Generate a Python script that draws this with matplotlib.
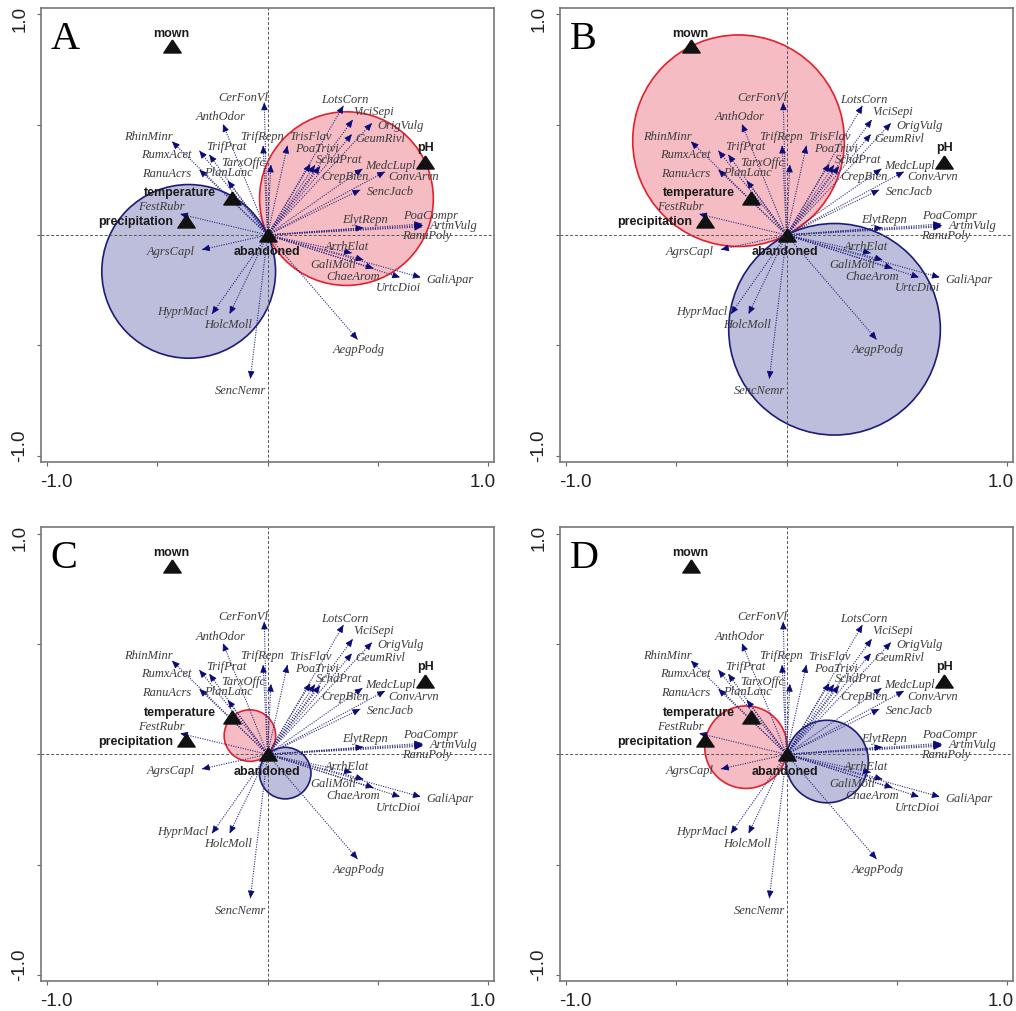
import numpy as np
import matplotlib
matplotlib.use("Agg")
import matplotlib.pyplot as plt
from matplotlib.patches import Circle
from matplotlib.transforms import ScaledTranslation

# ---------------- data ----------------
species = ["CerFonVl", "AnthOdor", "RhinMinr", "RumxAcet", "TrifPrat", "RanuAcrs",
           "PlanLanc", "TrifRepn", "TarxOffc", "TrisFlav", "PoaTrivi", "SchdPrat",
           "CrepBien", "LotsCorn", "ViciSepi", "OrigVulg", "GeumRivl", "MedcLupl",
           "ConvArvn", "SencJacb", "ElytRepn", "PoaCompr", "ArtmVulg", "RanuPoly",
           "ArrhElat", "GaliMoll", "ChaeArom", "UrtcDioi", "GaliApar", "AegpPodg",
           "SencNemr", "HolcMoll", "HyprMacl", "AgrsCapl", "FestRubr"]
sp_x = [-0.015, -0.202, -0.433, -0.309, -0.264, -0.309,
        -0.180, -0.020, 0.015, 0.090, 0.194, 0.215,
        0.238, 0.344, 0.386, 0.473, 0.382, 0.430,
        0.532, 0.420, 0.434, 0.700, 0.705, 0.700,
        0.382, 0.435, 0.480, 0.600, 0.694, 0.408,
        -0.078, -0.172, -0.252, -0.297, -0.396]
sp_y = [0.601, 0.503, 0.424, 0.382, 0.364, 0.296,
        0.246, 0.405, 0.319, 0.405, 0.322, 0.317,
        0.311, 0.586, 0.522, 0.507, 0.457, 0.300,
        0.287, 0.205, 0.033, 0.050, 0.043, 0.037,
        -0.082, -0.113, -0.151, -0.192, -0.192, -0.474,
        -0.652, -0.358, -0.358, -0.066, 0.095]

env_names = ["mown", "pH", "temperature", "precipitation", "abandoned"]
env_x = [-0.435, 0.715, -0.160, -0.368, 0.0]
env_y = [0.855, 0.330, 0.170, 0.065, 0.0]

panel_letters = ["A", "B", "C", "D"]
circle_var = ["pH", "mown", "temperature", "precipitation"]

# ---------------- label layout (offsets from arrow tips) ----------------
lab_dx = [-0.094, -0.009, -0.109, -0.151, 0.077, -0.146,
          0.003, -0.006, -0.124, 0.106, 0.029, 0.110,
          0.111, 0.005, 0.097, 0.128, 0.128, 0.126,
          0.129, 0.136, 0.008, 0.037, 0.140, 0.022,
          -0.023, -0.136, -0.094, -0.007, 0.133, 0.004,
          -0.046, -0.009, -0.133, -0.144, -0.087]
lab_dy = [0.026, 0.035, 0.026, -0.015, 0.038, -0.014,
          0.041, 0.045, 0.014, 0.042, 0.071, 0.027,
          -0.045, 0.033, 0.040, -0.007, -0.015, 0.019,
          -0.021, -0.006, 0.039, 0.041, 0.004, -0.037,
          0.031, -0.018, -0.033, -0.045, -0.007, -0.045,
          -0.053, -0.045, 0.012, -0.005, 0.035]
env_dx = [0.0, 0.003, -0.075, -0.058, -0.005]
env_dy = [0.062, 0.068, 0.024, -0.003, -0.074]
env_ha = ["center", "center", "right", "right", "center"]

# ---------------- styles ----------------
NAVY = "#0a0a78"
LINE = "#2a2a80"
SPTXT = "#3c3c3c"
RED_FILL = "#f5bcc4"
RED_EDGE = "#e3212c"
BLUE_FILL = "#bdbddc"
BLUE_EDGE = "#1c1c78"
tri = [(0, 0.75), (-1, -0.75), (1, -0.75), (0, 0.75)]

fig = plt.figure(figsize=(10.16, 10.12), dpi=100)
positions = [(0.0401, 0.5428, 0.4465, 0.448), (0.5509, 0.5428, 0.4465, 0.448),
             (0.0401, 0.0293, 0.4465, 0.4486), (0.5509, 0.0293, 0.4465, 0.4486)]

# pixel shifts of the end tick labels (towards the plot interior)
xshift = {"-1.0": 9, "1.0": -6}
yshift = {"1.0": -3.5, "-1.0": 11}

lim = 1.028
for pi, pos in enumerate(positions):
    ax = fig.add_axes(pos)
    ax.set_xlim(-lim, lim)
    ax.set_ylim(-lim, lim)

    # Van Dobben-style circles for the selected variable
    vi = env_names.index(circle_var[pi])
    vx, vy = env_x[vi], env_y[vi]
    r = 0.5 * np.hypot(vx, vy)
    ax.add_patch(Circle((vx / 2, vy / 2), r, facecolor=RED_FILL, edgecolor=RED_EDGE,
                        lw=1.2, zorder=1))
    ax.add_patch(Circle((-vx / 2, -vy / 2), r, facecolor=BLUE_FILL, edgecolor=BLUE_EDGE,
                        lw=1.2, zorder=1))

    ax.axhline(0, color="#555555", lw=0.7, ls=(0, (3, 2)), zorder=1.5)
    ax.axvline(0, color="#555555", lw=0.7, ls=(0, (3, 2)), zorder=1.5)

    # species arrows
    for i, name in enumerate(species):
        x, y = sp_x[i], sp_y[i]
        ax.plot([0, x], [0, y], color=LINE, lw=0.8, ls=(0, (1, 1.2)), zorder=2)
        ax.annotate("", xy=(x, y), xytext=(x * 0.97, y * 0.97),
                    arrowprops=dict(arrowstyle="-|>,head_length=0.5,head_width=0.22",
                                    color=NAVY, lw=0.6, shrinkA=0, shrinkB=0,
                                    mutation_scale=9), zorder=3)
        ax.text(x + lab_dx[i], y + lab_dy[i], name, fontsize=9, style="italic",
                family="Liberation Serif", color=SPTXT, ha="center", va="center",
                zorder=4)

    # environmental variables
    ax.plot(env_x, env_y, ls="none", marker=tri, markersize=12.5, color="#111111",
            zorder=5)
    for j, name in enumerate(env_names):
        ax.text(env_x[j] + env_dx[j], env_y[j] + env_dy[j], name, fontsize=9,
                fontweight="bold", family="Liberation Sans", color="#1a1a1a",
                ha=env_ha[j], va="center", zorder=6)

    ax.text(0.022, 0.975, panel_letters[pi], transform=ax.transAxes, fontsize=29,
            family="Liberation Serif", ha="left", va="top", zorder=7)

    ticks = [-1.0, -0.5, 0.0, 0.5, 1.0]
    labels = ["-1.0", "", "", "", "1.0"]
    ax.set_xticks(ticks)
    ax.set_xticklabels(labels, family="Liberation Sans")
    ax.set_yticks(ticks)
    ax.set_yticklabels(labels, rotation=90, va="center", family="Liberation Sans")
    ax.tick_params(direction="out", length=3, width=0.8, color="#666666",
                   labelsize=13.5, labelcolor="#222222")
    ax.tick_params(axis="x", pad=5)
    ax.tick_params(axis="y", pad=6)
    for lab in ax.get_xticklabels():
        s = lab.get_text()
        if s in xshift:
            lab.set_transform(lab.get_transform() +
                              ScaledTranslation(xshift[s] / 100, 0, fig.dpi_scale_trans))
    for lab in ax.get_yticklabels():
        s = lab.get_text()
        if s in yshift:
            lab.set_transform(lab.get_transform() +
                              ScaledTranslation(0, yshift[s] / 100, fig.dpi_scale_trans))
    for sp in ax.spines.values():
        sp.set_color("#777777")
        sp.set_linewidth(1.2)

fig.savefig("out.png", dpi=100)
